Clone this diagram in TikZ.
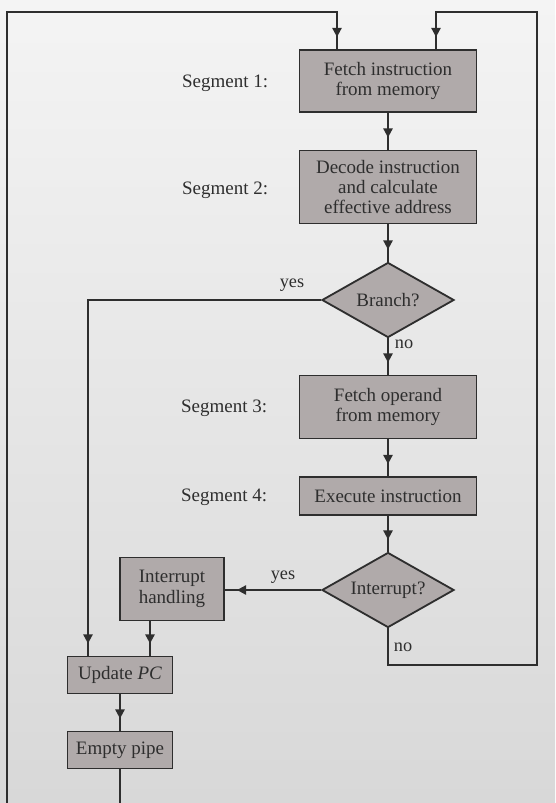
\documentclass[tikz,border=0pt]{standalone}
\usepackage{fontspec}
\setmainfont{Liberation Serif}
\usetikzlibrary{arrows.meta, shapes.geometric, decorations.markings}
\definecolor{inkgray}{HTML}{2E2E2E}
\definecolor{boxgray}{HTML}{B0AAAA}
\definecolor{papertop}{HTML}{F4F4F4}
\definecolor{paperbot}{HTML}{D8D8D8}

\begin{document}
\begin{tikzpicture}[
		x=0.025cm, y=-0.025cm,
		segbox/.style={draw=inkgray, fill=boxgray, line width=1.3pt, align=center, text=inkgray, font=\fontsize{13.5}{14.5}\selectfont, inner sep=2pt, minimum width=4.425cm},
		decision/.style={diamond, draw=inkgray, fill=boxgray, line width=1.3pt, text=inkgray, font=\fontsize{13.5}{14.5}\selectfont, aspect=1.76, inner sep=0pt, minimum width=3.3cm, minimum height=1.875cm},
		seglabel/.style={anchor=east, text=inkgray, font=\fontsize{13.5}{14.5}\selectfont},
		ynlabel/.style={text=inkgray, font=\fontsize{13}{14}\selectfont},
		wire/.style={draw=inkgray, line width=1.4pt},
		flow/.style={postaction={decorate}, decoration={markings, mark=at position -0.3cm with {\arrow{Triangle[length=6.5pt,width=6.5pt]}}}}
	]
	% Paper
	\useasboundingbox (0,0) rectangle (555,803);
	\shade[top color=papertop, bottom color=paperbot] (0,0) rectangle (555,803);
	\clip (0,0) rectangle (555,803);

	% Segments
	\node[segbox, minimum height=1.55cm] (fetch) at (388,81) {Fetch instruction\\from memory};
	\node[segbox, minimum height=1.825cm] (decode) at (388,187) {Decode instruction\\and calculate\\effective address};
	\node[decision] (branch) at (388,300) {Branch?};
	\node[segbox, minimum height=1.575cm] (operand) at (388,407) {Fetch operand\\from memory};
	\node[segbox, minimum height=0.95cm] (execute) at (388,496) {Execute instruction};
	\node[decision] (interrupt) at (388,590) {Interrupt?};
	\node[segbox, minimum width=2.6cm, minimum height=1.575cm] (handling) at (172,589) {Interrupt\\handling};
	\node[segbox, minimum width=2.625cm, minimum height=0.925cm] (update) at (120,675) {Update \textit{PC}};
	\node[segbox, minimum width=2.625cm, minimum height=0.925cm] (empty) at (120,750) {Empty pipe};

	\node[seglabel] (seg1) at (273,83) {Segment 1:};
	\node[seglabel] (seg2) at (273,190) {Segment 2:};
	\node[seglabel] (seg3) at (272,408) {Segment 3:};
	\node[seglabel] (seg4) at (272,497) {Segment 4:};

	\node[ynlabel] (byes) at (292,285) {yes};
	\node[ynlabel] (bno) at (404,344) {no};
	\node[ynlabel] (iyes) at (283,577) {yes};
	\node[ynlabel] (ino) at (403,647) {no};

	\coordinate (inleft) at ([xshift=-1.275cm]fetch.north);
	\coordinate (inright) at ([xshift=1.2cm]fetch.north);

	% Flow
	\draw[wire, flow] (fetch.south) -- (decode.north);
	\draw[wire, flow] (decode.south) -- (branch.north);
	\draw[wire, flow] (branch.south) -- (operand.north);
	\draw[wire, flow] (operand.south) -- (execute.north);
	\draw[wire, flow] (execute.south) -- (interrupt.north);
	\draw[wire, flow] (interrupt.west) -- (interrupt.west -| handling.east);
	\draw[wire, flow] (branch.west) -| ([xshift=-0.8cm]update.north);
	\draw[wire, flow] ([xshift=-0.55cm]handling.south) -- ([xshift=-0.55cm]handling.south |- update.north);
	\draw[wire, flow] (update.south) -- (empty.north);

	% Loops back to segment 1
	\draw[wire, flow] (interrupt.south) |- (537,665) -- (537,12) -| (inright);
	\draw[wire, flow] (empty.south) -- (120,830) -| (7,12) -| (inleft);
\end{tikzpicture}
\end{document}
